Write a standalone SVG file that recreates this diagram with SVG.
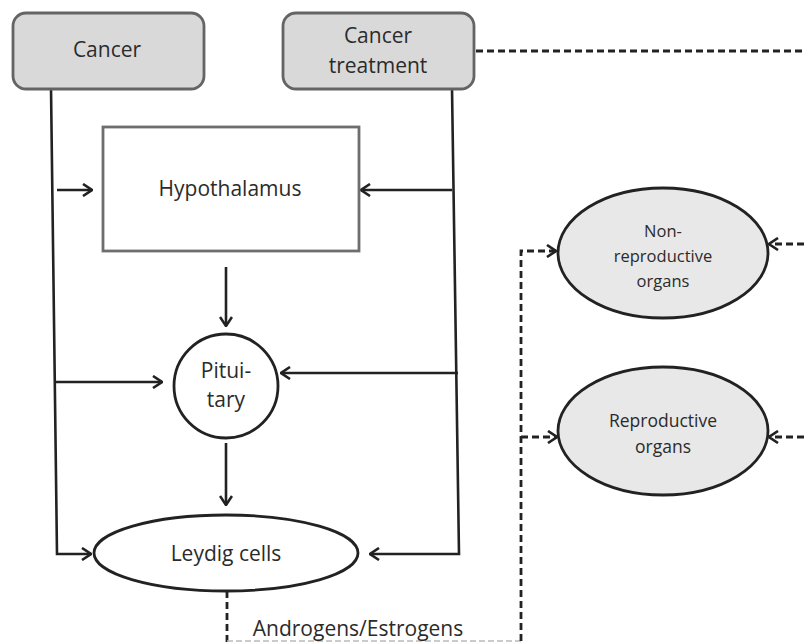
<svg xmlns="http://www.w3.org/2000/svg" width="804" height="643" viewBox="0 0 804 643">
<style>
  text { font-family: "Open Sans", "Liberation Sans", sans-serif; fill: #2b2b2b; text-anchor: middle; }
  .big { font-size: 21px; }
  .small { font-size: 16.5px; }
  .mid { font-size: 17.5px; }
  .gbox { fill: #d9d9d9; stroke: #646464; stroke-width: 2.8; }
  .hbox { fill: #ffffff; stroke: #6e6e6e; stroke-width: 2.8; }
  .wshape { fill: #ffffff; stroke: #222; stroke-width: 2.8; }
  .oshape { fill: #e8e8e8; stroke: #222; stroke-width: 2.8; }
  .solid { fill: none; stroke: #222; stroke-width: 2.6; }
  .dash { fill: none; stroke: #222; stroke-width: 2.8; stroke-dasharray: 7 4; }
  .faint { fill: none; stroke: #bbb; stroke-width: 1.5; stroke-dasharray: 6 3; }
</style>
<defs>
  <marker id="arr" viewBox="0 0 12 14" refX="11" refY="7" markerWidth="12" markerHeight="14" markerUnits="userSpaceOnUse" orient="auto">
    <path d="M2,1 L11,7 L2,13" fill="none" stroke="#222" stroke-width="2.6"/>
  </marker>
</defs>
<rect width="804" height="643" fill="#ffffff"/>

<g id="connectors">
  <path class="solid" d="M51,88 L57,554 L91,554" marker-end="url(#arr)"/>
  <path class="solid" d="M57,190 L92,190" marker-end="url(#arr)"/>
  <path class="solid" d="M54,382 L162,382" marker-end="url(#arr)"/>
  <path class="solid" d="M452,88 L459,554 L370,554" marker-end="url(#arr)"/>
  <path class="solid" d="M452,190 L361,190" marker-end="url(#arr)"/>
  <path class="solid" d="M458,373 L281,373" marker-end="url(#arr)"/>
  <path class="solid" d="M226,267 L226,326" marker-end="url(#arr)"/>
  <path class="solid" d="M226,443 L226,505" marker-end="url(#arr)"/>
  <path class="dash" d="M476,51 L804,51"/>
  <path class="dash" d="M227,591 L227,643"/>
  <path class="faint" d="M227,641 L521,641"/>
  <path class="dash" d="M521,641 L521,251 L556,251" marker-end="url(#arr)"/>
  <path class="dash" d="M521,437 L557,437" marker-end="url(#arr)"/>
  <path class="dash" d="M804,244 L769,244" marker-end="url(#arr)"/>
  <path class="dash" d="M804,437 L769,437" marker-end="url(#arr)"/>
</g>

<g id="cancer">
  <rect class="gbox" x="13" y="13" width="191" height="76" rx="13"/>
  <text class="big" x="107" y="57">Cancer</text>
</g>
<g id="cancer-treatment">
  <rect class="gbox" x="283" y="13" width="191" height="76" rx="13"/>
  <text class="big" x="378" y="43">Cancer</text>
  <text class="big" x="378" y="73">treatment</text>
</g>
<g id="hypothalamus">
  <rect class="hbox" x="103" y="127" width="256" height="124"/>
  <text class="big" x="230" y="196">Hypothalamus</text>
</g>
<g id="pituitary">
  <circle class="wshape" cx="226" cy="386" r="52"/>
  <text class="big" x="226" y="378">Pitui-</text>
  <text class="big" x="226" y="407">tary</text>
</g>
<g id="leydig">
  <ellipse class="wshape" cx="226" cy="553" rx="132" ry="38"/>
  <text class="big" x="226" y="561">Leydig cells</text>
</g>
<g id="non-reproductive">
  <ellipse class="oshape" cx="663" cy="253" rx="105" ry="65"/>
  <text class="small" x="663" y="237">Non-</text>
  <text class="small" x="663" y="262">reproductive</text>
  <text class="small" x="663" y="287">organs</text>
</g>
<g id="reproductive">
  <ellipse class="oshape" cx="663" cy="431" rx="105" ry="64"/>
  <text class="mid" x="663" y="427">Reproductive</text>
  <text class="mid" x="663" y="453">organs</text>
</g>
<g id="label">
  <text class="big" x="358" y="636">Androgens/Estrogens</text>
</g>
</svg>
